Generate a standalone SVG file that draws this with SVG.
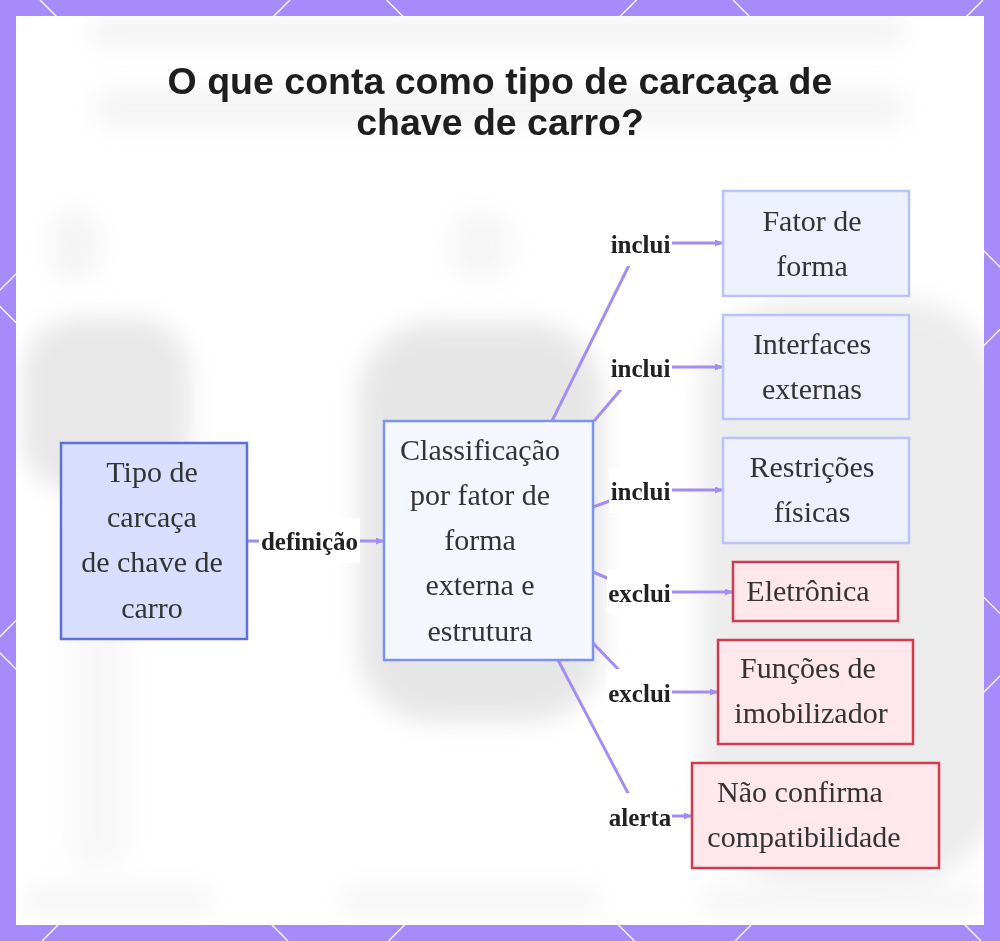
<svg xmlns="http://www.w3.org/2000/svg" width="1000" height="941" viewBox="0 0 1000 941">
  <defs>
    <style>
      .ntext { font-family: "Liberation Serif", "Times New Roman", serif; font-size: 30px; fill: #333333; text-anchor: middle; }
      .elabel { font-family: "Liberation Serif", "Times New Roman", serif; font-size: 25px; font-weight: bold; fill: #222222; text-anchor: middle; }
      .lbg { fill: #ffffff; }
      .edge { fill: none; stroke: #a48cf2; stroke-width: 3; stroke-linejoin: round; marker-end: url(#arrow); }
      .title { font-family: "Liberation Sans", Arial, sans-serif; font-size: 37.5px; font-weight: bold; fill: #1e1e1e; text-anchor: middle; }
      .lat { stroke: #ffffff; stroke-width: 1.5; opacity: 0.9; }
      .blob { fill: #9a9a9a; }
      .primary { fill: #d9defc; stroke: #5c70d6; stroke-width: 2.5; }
      .concept { fill: #f5f7ff; stroke: #7d93ee; stroke-width: 2.5; }
      .incl { fill: #eef1fd; stroke: #b9c4f6; stroke-width: 2.5; }
      .excl { fill: #ffe8ec; stroke: #d23a4e; stroke-width: 2.5; }
    </style>
    <marker id="arrow" viewBox="0 0 8 7" refX="8" refY="3.5" markerWidth="8" markerHeight="7" markerUnits="userSpaceOnUse" orient="auto">
      <path d="M0,0 L8,3.5 L0,7 z" fill="#a48cf2"/>
    </marker>
    <filter id="blur" x="-20%" y="-20%" width="140%" height="140%">
      <feGaussianBlur stdDeviation="12"/>
    </filter>
    <clipPath id="panelclip">
      <rect x="16" y="16" width="968" height="909"/>
    </clipPath>
  </defs>

  <!-- frame -->
  <rect x="0" y="0" width="1000" height="941" fill="#a78bfa"/>
  <g id="lattice">
    <line class="lat" x1="-653" y1="0" x2="288" y2="941"/>
    <line class="lat" x1="-306.5" y1="0" x2="634.5" y2="941"/>
    <line class="lat" x1="40" y1="0" x2="981" y2="941"/>
    <line class="lat" x1="386.5" y1="0" x2="1327.5" y2="941"/>
    <line class="lat" x1="733" y1="0" x2="1674" y2="941"/>
    <line class="lat" x1="290" y1="0" x2="-651" y2="941"/>
    <line class="lat" x1="636.5" y1="0" x2="-304.5" y2="941"/>
    <line class="lat" x1="983" y1="0" x2="42" y2="941"/>
    <line class="lat" x1="1329.5" y1="0" x2="388.5" y2="941"/>
    <line class="lat" x1="1676" y1="0" x2="735" y2="941"/>
  </g>
  <rect x="16" y="16" width="968" height="909" fill="#ffffff"/>

  <!-- blurred background picture -->
  <g clip-path="url(#panelclip)">
    <g id="background" filter="url(#blur)" opacity="0.3">
      <rect class="blob" x="90" y="18" width="815" height="26" rx="10" opacity="0.45"/>
      <rect class="blob" x="95" y="88" width="810" height="40" rx="12" opacity="0.35"/>
      <rect class="blob" x="50" y="210" width="50" height="70" rx="20" opacity="0.35"/>
      <rect class="blob" x="450" y="212" width="62" height="68" rx="22" opacity="0.3"/>
      <rect class="blob" x="22" y="318" width="168" height="175" rx="55" opacity="0.75"/>
      <rect class="blob" x="68" y="490" width="60" height="380" rx="28" opacity="0.25"/>
      <rect class="blob" x="358" y="322" width="245" height="400" rx="75" opacity="0.8"/>
      <rect class="blob" x="700" y="300" width="300" height="580" rx="95" opacity="0.6"/>
      <rect class="blob" x="22" y="885" width="190" height="32" rx="12" opacity="0.3"/>
      <rect class="blob" x="340" y="885" width="260" height="32" rx="12" opacity="0.3"/>
      <rect class="blob" x="700" y="885" width="284" height="32" rx="12" opacity="0.3"/>
    </g>
  </g>

  <!-- title -->
  <g id="title">
    <text class="title" x="500" y="94">O que conta como tipo de carcaça de</text>
    <text class="title" x="500" y="135">chave de carro?</text>
  </g>

  <!-- connectors -->
  <g id="connectors">
    <path class="edge" d="M247,541 L384,541"/>
    <path class="edge" d="M552,421 L640,243 L723,243"/>
    <path class="edge" d="M594,421 L640,367 L723,367"/>
    <path class="edge" d="M593,507 L640,490 L723,490"/>
    <path class="edge" d="M593,572 L640,592 L733,592"/>
    <path class="edge" d="M593,643 L640,692 L718,692"/>
    <path class="edge" d="M558,660 L640,816 L692,816"/>
    <g id="edge-labels">
      <rect class="lbg" x="259" y="518" width="101" height="45"/>
      <text class="elabel" x="309.5" y="550">definição</text>
      <rect class="lbg" x="609" y="221" width="63" height="45"/>
      <text class="elabel" x="640.5" y="253">inclui</text>
      <rect class="lbg" x="609" y="345" width="63" height="45"/>
      <text class="elabel" x="640.5" y="376.5">inclui</text>
      <rect class="lbg" x="609" y="468" width="63" height="45"/>
      <text class="elabel" x="640.5" y="500">inclui</text>
      <rect class="lbg" x="607" y="569" width="65" height="45"/>
      <text class="elabel" x="639.5" y="601.5">exclui</text>
      <rect class="lbg" x="607" y="669" width="65" height="45"/>
      <text class="elabel" x="639.5" y="701.5">exclui</text>
      <rect class="lbg" x="607" y="793" width="65" height="45"/>
      <text class="elabel" x="640" y="825.5">alerta</text>
    </g>
  </g>

  <!-- nodes -->
  <g id="node-tipo">
    <rect class="primary" x="61" y="443" width="186" height="196"/>
    <text class="ntext" x="152" y="482">Tipo de</text>
    <text class="ntext" x="152" y="527">carcaça</text>
    <text class="ntext" x="152" y="572">de chave de</text>
    <text class="ntext" x="152" y="618">carro</text>
  </g>
  <g id="node-classificacao">
    <rect class="concept" x="384" y="421" width="209" height="239"/>
    <text class="ntext" x="480" y="460">Classificação</text>
    <text class="ntext" x="480" y="505">por fator de</text>
    <text class="ntext" x="480" y="550">forma</text>
    <text class="ntext" x="480" y="595">externa e</text>
    <text class="ntext" x="480" y="641">estrutura</text>
  </g>
  <g id="node-fator">
    <rect class="incl" x="723" y="191" width="186" height="105"/>
    <text class="ntext" x="812" y="231">Fator de</text>
    <text class="ntext" x="812" y="276">forma</text>
  </g>
  <g id="node-interfaces">
    <rect class="incl" x="723" y="315" width="186" height="104"/>
    <text class="ntext" x="812" y="354">Interfaces</text>
    <text class="ntext" x="812" y="399">externas</text>
  </g>
  <g id="node-restricoes">
    <rect class="incl" x="723" y="438" width="186" height="105"/>
    <text class="ntext" x="812" y="477">Restrições</text>
    <text class="ntext" x="812" y="522">físicas</text>
  </g>
  <g id="node-eletronica">
    <rect class="excl" x="733" y="562" width="165" height="59"/>
    <text class="ntext" x="808" y="601">Eletrônica</text>
  </g>
  <g id="node-imobilizador">
    <rect class="excl" x="718" y="640" width="195" height="104"/>
    <text class="ntext" x="808" y="678">Funções de</text>
    <text class="ntext" x="811" y="723">imobilizador</text>
  </g>
  <g id="node-compatibilidade">
    <rect class="excl" x="692" y="763" width="247" height="105"/>
    <text class="ntext" x="800" y="802">Não confirma</text>
    <text class="ntext" x="804" y="847">compatibilidade</text>
  </g>
</svg>
